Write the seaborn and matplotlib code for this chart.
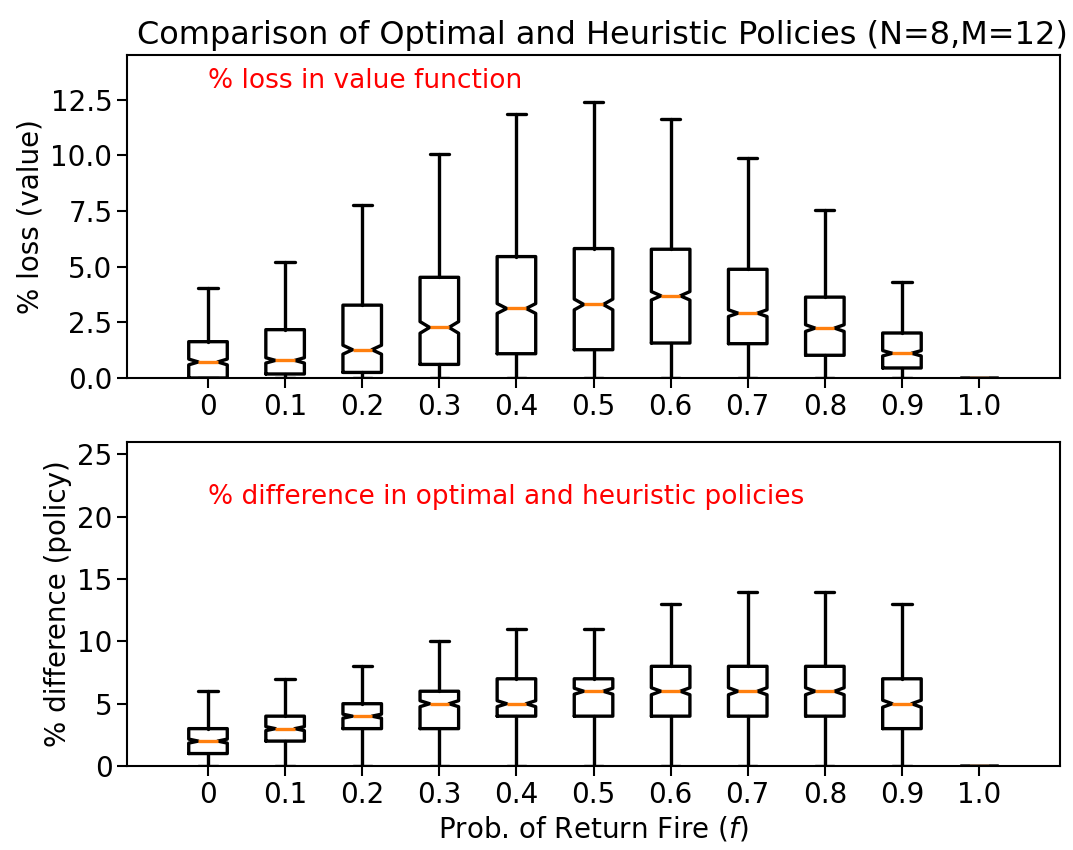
import matplotlib
matplotlib.use("Agg")
import matplotlib.pyplot as plt
import seaborn as sns

# Probability of return fire (category labels on the x axis)
fire_prob = ["0", "0.1", "0.2", "0.3", "0.4", "0.5", "0.6", "0.7", "0.8", "0.9", "1.0"]

# % loss in value function: box summary per category
loss_whislo = [0.0, 0.0, 0.0, 0.0, 0.0, 0.0, 0.0, 0.0, 0.0, 0.0, 0.0]
loss_q1 = [0.0, 0.18, 0.25, 0.61, 1.09, 1.27, 1.57, 1.54, 1.02, 0.45, 0.0]
loss_med = [0.72, 0.79, 1.27, 2.27, 3.12, 3.30, 3.69, 2.91, 2.24, 1.11, 0.0]
loss_q3 = [1.63, 2.17, 3.27, 4.52, 5.45, 5.81, 5.78, 4.88, 3.63, 2.02, 0.0]
loss_whishi = [4.02, 5.20, 7.75, 10.04, 11.84, 12.37, 11.63, 9.86, 7.53, 4.29, 0.0]
loss_ci_half = [0.13, 0.12, 0.20, 0.26, 0.22, 0.24, 0.19, 0.15, 0.15, 0.12, 0.0]

# % difference between optimal and heuristic policies
policy_whislo = [0, 0, 0, 0, 0, 0, 0, 0, 0, 0, 0]
policy_q1 = [1, 2, 3, 3, 4, 4, 4, 4, 4, 3, 0]
policy_med = [2, 3, 4, 5, 5, 6, 6, 6, 6, 5, 0]
policy_q3 = [3, 4, 5, 6, 7, 7, 8, 8, 8, 7, 0]
policy_whishi = [6, 7, 8, 10, 11, 11, 13, 14, 14, 13, 0]
policy_ci_half = [0.16, 0.16, 0.16, 0.24, 0.24, 0.24, 0.28, 0.28, 0.28, 0.28, 0.0]

sns.set_style("ticks", rc={
    "axes.edgecolor": "black",
    "axes.labelcolor": "black",
    "text.color": "black",
    "xtick.color": "black",
    "ytick.color": "black",
})
plt.rcParams["font.family"] = ["DejaVu Sans"]
plt.rcParams["axes.linewidth"] = 1.5
plt.rcParams["xtick.major.width"] = 1.5
plt.rcParams["ytick.major.width"] = 1.5
plt.rcParams["xtick.major.size"] = 7
plt.rcParams["ytick.major.size"] = 7
plt.rcParams["xtick.labelsize"] = 20
plt.rcParams["ytick.labelsize"] = 20
plt.rcParams["axes.labelsize"] = 20


def box_stats(lo, q1, med, q3, hi, ci):
    return [
        dict(whislo=a, q1=b, med=c, q3=d, whishi=e, cilo=c - h, cihi=c + h, fliers=[])
        for a, b, c, d, e, h in zip(lo, q1, med, q3, hi, ci)
    ]


def draw_boxes(ax, stats):
    line = dict(color="black", linewidth=2.4)
    ax.bxp(
        stats,
        positions=range(len(stats)),
        widths=0.5,
        shownotches=True,
        showfliers=False,
        manage_ticks=False,
        boxprops=line,
        whiskerprops=line,
        capprops=line,
        medianprops=dict(color="#ff7f0e", linewidth=2.4),
    )
    ax.set_xticks(range(len(fire_prob)), fire_prob)
    ax.set_xlim(-1.05, 11.05)


fig = plt.figure(figsize=(10.73, 8.5), dpi=100)
ax_top = fig.add_axes([0.1184, 0.5553, 0.8695, 0.38])
ax_bot = fig.add_axes([0.1184, 0.0988, 0.8695, 0.3812])

draw_boxes(ax_top, box_stats(loss_whislo, loss_q1, loss_med, loss_q3, loss_whishi, loss_ci_half))
ax_top.set_ylim(0, 14.5)
ax_top.set_yticks([0, 2.5, 5, 7.5, 10, 12.5], ["0.0", "2.5", "5.0", "7.5", "10.0", "12.5"])
ax_top.set_ylabel("% loss (value)")
ax_top.text(0, 13, "% loss in value function", color="red", fontsize=19)
ax_top.set_title("Comparison of Optimal and Heuristic Policies (N=8,M=12)",
                 fontsize=23, x=0.51, pad=8)

draw_boxes(ax_bot, box_stats(policy_whislo, policy_q1, policy_med, policy_q3, policy_whishi, policy_ci_half))
ax_bot.set_ylim(0, 26)
ax_bot.set_yticks([0, 5, 10, 15, 20, 25])
ax_bot.set_ylabel("% difference (policy)")
ax_bot.set_xlabel("Prob. of Return Fire ($f$)")
ax_bot.text(0, 21, "% difference in optimal and heuristic policies", color="red", fontsize=19)

fig.savefig("out.png", dpi=100)
